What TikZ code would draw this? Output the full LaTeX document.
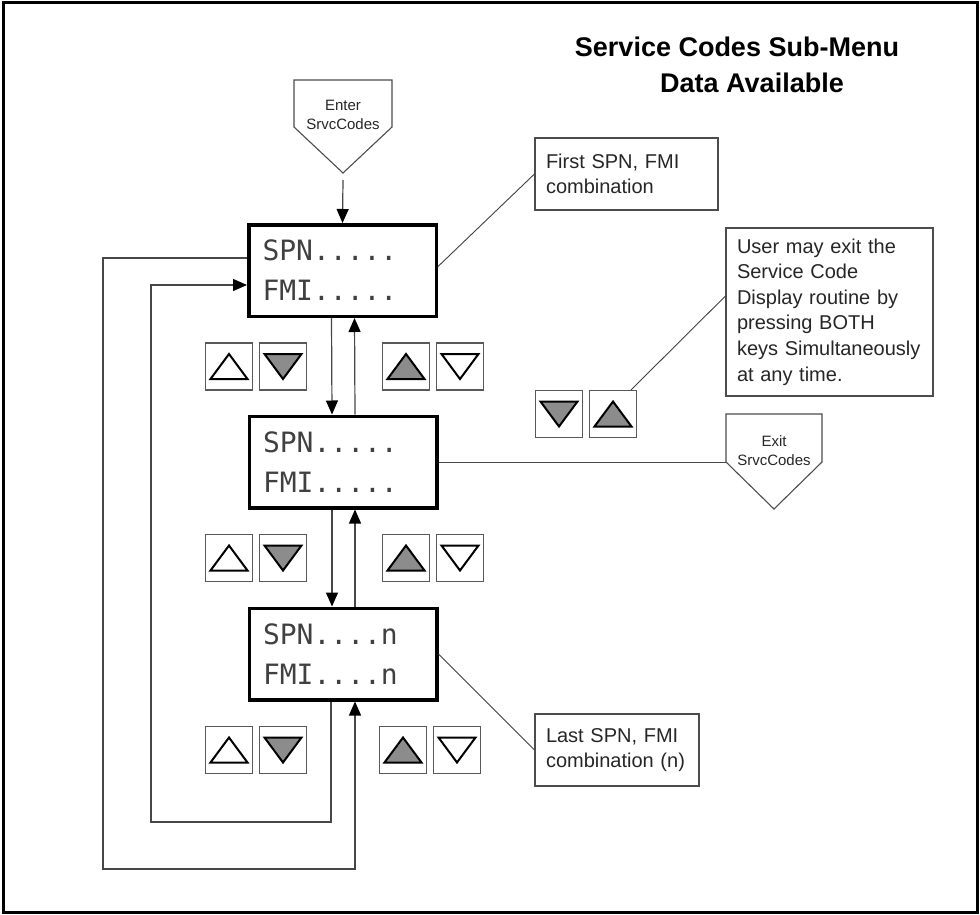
\documentclass[tikz,border=0pt]{standalone}
\usepackage{fontspec}
\setmainfont{Liberation Sans}
\newfontfamily\lcdfont{DejaVu Sans Mono}
\usetikzlibrary{arrows.meta,calc}
\tikzset{
  conn/.style={draw=black!72,line width=1.2pt},
  tip/.style={-{Triangle[width=12pt,length=14pt,black]}},
  display/.style={draw=black,line width=3.5pt,minimum width=187.5pt,minimum height=91.5pt,
    inner xsep=13pt,text width=160pt,align=left,font=\lcdfont\fontsize{28}{40}\selectfont,text=black!75},
  btn/.style={draw=black!65,line width=1.1pt,minimum width=47pt,minimum height=47pt,inner sep=0pt},
  tri/.style={draw=black,line width=2pt,line join=miter},
  callout/.style={draw=black!70,line width=1.1pt,inner xsep=11pt,align=left,
    font=\fontsize{20}{25.6}\selectfont,text=black!85},
  calloutline/.style={draw=black!75,line width=0.9pt},
  pent/.style={draw=black!70,line width=1.1pt},
  penttext/.style={align=center,font=\fontsize{15}{19}\selectfont,text=black!85},
  title/.style={font=\bfseries\fontsize{27}{36}\selectfont}
}
\newcommand\uptri[2]{\draw[tri,fill=#2] ([shift={(-18.5pt,-12.5pt)}]#1.center) -- ([shift={(18.5pt,-12.5pt)}]#1.center) -- ([shift={(0pt,12.5pt)}]#1.center) -- cycle;}
\newcommand\dntri[2]{\draw[tri,fill=#2] ([shift={(-18.5pt,12.5pt)}]#1.center) -- ([shift={(18.5pt,12.5pt)}]#1.center) -- ([shift={(0pt,-12.5pt)}]#1.center) -- cycle;}
\begin{document}
\begin{tikzpicture}[x=1pt,y=-1pt]
\useasboundingbox (0,0) rectangle (980,915);
\draw[line width=3pt] (3,3) rectangle (977,912);

% title
\node[title] (t1) at (737,47) {Service Codes Sub-Menu};
\node[title] (t2) at (752,83) {Data Available};

% enter pentagon
\draw[pent] (294,80) -- (392,80) -- (392,127) -- (343,173) -- (294,127) -- cycle;
\node[penttext] (enter) at (343,115) {Enter\\SrvcCodes};
\coordinate (entertip) at (343,180);

% displays
\node[display] (d1) at (342.5,270.5) {SPN.....\\FMI.....};
\node[display] (d2) at (343,462) {SPN.....\\FMI.....};
\node[display] (d3) at (343,654) {SPN....n\\FMI....n};

\draw[conn,tip] (entertip) -- (d1.north);

% vertical arrows
\draw[conn,tip] ([xshift=-11pt]d1.south) -- ([xshift=-11pt]d2.north);
\draw[conn,tip] ([xshift=12pt]d2.north) -- ([xshift=12pt]d1.south);
\draw[conn,tip] ([xshift=-11pt]d2.south) -- ([xshift=-11pt]d3.north);
\draw[conn,tip] ([xshift=12pt]d3.north) -- ([xshift=12pt]d2.south);

% loops
\coordinate (outer) at (103,869);
\coordinate (inner) at (151,822);
\draw[conn,tip] ([yshift=12.5pt]d1.west) -| (outer) -| ([xshift=12pt]d3.south);
\draw[conn,tip] ([xshift=-12pt]d3.south) |- (inner) |- ([yshift=-14.5pt]d1.west);

% buttons row 1
\node[btn] (b1a) at (229,366.5) {};
\node[btn] (b1b) at (283,366.5) {};
\node[btn] (b1c) at (406,366.5) {};
\node[btn] (b1d) at (460,366.5) {};
% row 2
\node[btn] (b2a) at (229,558) {};
\node[btn] (b2b) at (283,558) {};
\node[btn] (b2c) at (406,558) {};
\node[btn] (b2d) at (460,558) {};
% row 3
\node[btn] (b3a) at (229,750) {};
\node[btn] (b3b) at (283,750) {};
\node[btn] (b3c) at (403,750) {};
\node[btn] (b3d) at (457,750) {};
% both keys
\node[btn] (bba) at (559,414) {};
\node[btn] (bbb) at (613,414) {};

\foreach \r in {1,2,3}{
  \uptri{b\r a}{white}
  \dntri{b\r b}{black!45}
  \uptri{b\r c}{black!45}
  \dntri{b\r d}{white}
}
\dntri{bba}{black!45}
\uptri{bbb}{black!45}

% callouts
\node[callout,minimum width=183pt,minimum height=72pt,text width=161pt] (c1) at (626.5,174)
  {First SPN, FMI\\combination};
\node[callout,minimum width=207pt,minimum height=168pt,text width=185pt] (c2) at (829.5,312)
  {User may exit the\\Service Code\\Display routine by\\pressing BOTH\\keys Simultaneously\\at any time.};
\node[callout,minimum width=164pt,minimum height=72pt,text width=142pt] (c3) at (617,750)
  {Last SPN, FMI\\combination (n)};

\draw[calloutline] ([yshift=4pt]d1.east) -- (c1.west);
\draw[calloutline] ([xshift=18pt]bbb.north) -- ([yshift=16pt]c2.west);
\draw[calloutline] (d3.east) -- (c3.west);

% exit pentagon
\draw[pent] (726,414) -- (822,414) -- (822,462) -- (774,509) -- (726,462) -- cycle;
\node[penttext] (exit) at (774,451) {Exit\\SrvcCodes};
\coordinate (exitcorner) at (726,462);
\draw[conn,line width=1pt] (d2.east) -- (exitcorner);
\end{tikzpicture}
\end{document}
